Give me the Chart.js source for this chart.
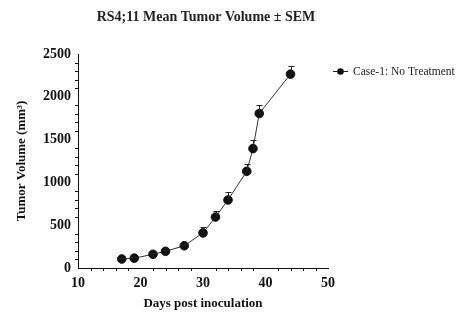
<!DOCTYPE html>
<html>
<head>
<meta charset="utf-8">
<script src="https://cdn.jsdelivr.net/npm/chart.js@4"></script>
<style>
  body { margin: 0; background: #fff; }
  #wrap { width: 464px; height: 333px; }
</style>
</head>
<body>
<div id="wrap"><canvas id="tumor"></canvas></div>
<script>
// data
let days = [17, 19, 22, 24, 27, 30, 32, 34, 37, 38, 39, 44]
let means = [105, 115, 160, 195, 260, 410, 595, 795, 1130, 1395, 1805, 2265]
let sems = [10, 10, 15, 15, 25, 70, 70, 88, 88, 98, 105, 97]
let seriesName = 'Case-1: No Treatment'
let titleText = 'RS4;11 Mean Tumor Volume \u00b1 SEM'

const serif = "'Liberation Serif', 'DejaVu Serif', serif"
const ink = '#111'

let points = days.map((d, i) => ({ x: d, y: means[i] }))

// upper error bars, minor ticks, title and legend
const extras = {
    id: 'extras',
    afterDatasetsDraw(chart) {
        const { ctx, scales: { x, y } } = chart
        ctx.save()
        ctx.strokeStyle = '#222'
        ctx.lineWidth = 1
        for (let i = 0; i < days.length; i++) {
            let px = Math.round(x.getPixelForValue(days[i])) + 0.5
            let py = y.getPixelForValue(means[i])
            let top = Math.round(y.getPixelForValue(means[i] + sems[i])) + 0.5
            ctx.beginPath()
            ctx.moveTo(px, py)
            ctx.lineTo(px, top)
            ctx.moveTo(px - 3, top)
            ctx.lineTo(px + 3, top)
            ctx.stroke()
        }
        ctx.restore()
    },
    afterDraw(chart) {
        const { ctx, scales: { x, y }, chartArea } = chart
        ctx.save()
        ctx.strokeStyle = ink
        ctx.lineWidth = 1
        // minor ticks
        ctx.beginPath()
        for (let v = 100; v < 2500; v += 100) {
            if (v % 500 == 0) continue
            let py = Math.round(y.getPixelForValue(v)) + 0.5
            ctx.moveTo(chartArea.left - 3, py)
            ctx.lineTo(chartArea.left, py)
        }
        for (let d = 12; d < 50; d += 2) {
            if (d % 10 == 0) continue
            let px = Math.round(x.getPixelForValue(d)) + 0.5
            ctx.moveTo(px, chartArea.bottom)
            ctx.lineTo(px, chartArea.bottom + 3)
        }
        ctx.stroke()

        // title
        ctx.fillStyle = '#222'
        ctx.font = "bold 14px " + serif
        ctx.textAlign = 'center'
        ctx.textBaseline = 'middle'
        ctx.fillText(titleText, 206, 17)

        // legend
        let ly = 71
        ctx.strokeStyle = '#222'
        ctx.beginPath()
        ctx.moveTo(333, ly + 0.5)
        ctx.lineTo(348, ly + 0.5)
        ctx.stroke()
        ctx.fillStyle = '#111'
        ctx.beginPath()
        ctx.arc(340.5, ly + 0.5, 3.3, 0, Math.PI * 2)
        ctx.fill()
        ctx.fillStyle = '#222'
        ctx.font = "11.5px " + serif
        ctx.textAlign = 'left'
        ctx.fillText(seriesName, 353, ly + 1)
        ctx.restore()
    }
}

const config = {
    type: 'scatter',
    data: {
        datasets: [{
            label: seriesName,
            data: points,
            showLine: true,
            borderColor: '#333',
            borderWidth: 1,
            backgroundColor: '#111',
            pointBackgroundColor: '#111',
            pointBorderColor: '#111',
            pointRadius: 4.3,
            pointHoverRadius: 4.3
        }]
    },
    options: {
        responsive: true,
        maintainAspectRatio: false,
        animation: false,
        layout: { padding: { left: 10, top: 54, right: 136, bottom: 18 } },
        plugins: {
            legend: { display: false },
            title: { display: false },
            tooltip: { enabled: false }
        },
        scales: {
            x: {
                type: 'linear',
                min: 10,
                max: 50,
                afterFit(scale) { scale.height = 47 },
                grid: { display: false, drawOnChartArea: false, drawTicks: true, tickLength: 5, color: ink },
                border: { display: true, color: ink, width: 1 },
                ticks: { stepSize: 10, color: ink, padding: 2, font: { family: serif, size: 14, weight: 'bold' } },
                title: { display: true, text: 'Days post inoculation', color: ink, padding: { top: 6 }, font: { family: serif, size: 13, weight: 'bold' } }
            },
            y: {
                min: 0,
                max: 2500,
                afterFit(scale) { scale.width = 68 },
                grid: { display: false, drawOnChartArea: false, drawTicks: true, tickLength: 5, color: ink },
                border: { display: true, color: ink, width: 1 },
                ticks: {
                    stepSize: 500, color: ink, padding: 2,
                    font: { family: serif, size: 14, weight: 'bold' },
                    callback: v => String(v)
                },
                title: { display: true, text: 'Tumor Volume (mm\u00b3)', color: ink, padding: { bottom: 4 }, font: { family: serif, size: 13, weight: 'bold' } }
            }
        }
    },
    plugins: [extras]
}

let chart = new Chart(document.getElementById('tumor'), config)
</script>
</body>
</html>
